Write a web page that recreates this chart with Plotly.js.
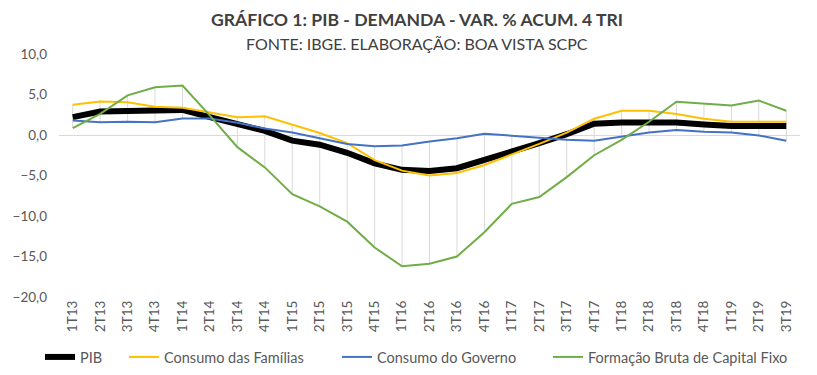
<!DOCTYPE html>
<html>
<head>
<meta charset="utf-8">
<script src="https://cdn.plot.ly/plotly-3.0.1.min.js"></script>
<style>html,body{margin:0;padding:0;background:#fff;}#chart{width:817px;height:375px;}</style>
</head>
<body>
<div id="chart"></div>
<script>
const quarters = ["1T13","2T13","3T13","4T13","1T14","2T14","3T14","4T14","1T15","2T15","3T15","4T15","1T16","2T16","3T16","4T16","1T17","2T17","3T17","4T17","1T18","2T18","3T18","4T18","1T19","2T19","3T19"];
const pib = [2.2,2.9,2.95,3.0,3.1,2.2,1.3,0.5,-0.7,-1.2,-2.2,-3.5,-4.3,-4.45,-4.1,-3.1,-2.0,-1.0,0.1,1.4,1.55,1.55,1.55,1.3,1.1,1.1,1.1];
const familias = [3.74,4.15,4.05,3.5,3.35,2.8,2.2,2.3,1.27,0.25,-1.0,-3.1,-4.4,-5.0,-4.7,-3.7,-2.4,-1.1,0.3,2.0,3.0,3.0,2.6,2.0,1.65,1.65,1.65];
const governo = [1.8,1.56,1.64,1.56,2.05,2.05,1.5,0.8,0.32,-0.37,-1.1,-1.4,-1.3,-0.8,-0.4,0.16,-0.08,-0.4,-0.58,-0.7,-0.2,0.3,0.62,0.4,0.3,-0.05,-0.7];
const fbcf = [0.86,2.6,4.9,5.9,6.1,2.4,-1.5,-4.0,-7.3,-8.8,-10.7,-13.9,-16.2,-15.9,-15.0,-12.0,-8.5,-7.65,-5.2,-2.5,-0.6,1.64,4.1,3.9,3.65,4.25,3.0];
const names = ["PIB","Consumo das Famílias","Consumo do Governo","Formação Bruta de Capital Fixo"];
const yTicks = [-20,-15,-10,-5,0,5,10];
const titleText = "GRÁFICO 1: PIB - DEMANDA - VAR. % ACUM. 4 TRI";
const subtitleText = "FONTE: IBGE. ELABORAÇÃO: BOA VISTA SCPC";

const W = 817, H = 375;
const M = {l: 59, r: 17, t: 54, b: 78};
const series = [pib, familias, governo, fbcf];
const colors = ["#000000", "#FFC000", "#4472C4", "#70AD47"];
const widths = [6, 2, 2, 2];
const legendIds = ["legend", "legend2", "legend3", "legend4"];
const legendX = [45, 129, 342, 553];

// high-low lines (Excel-style) derived from the series
const hlX = [], hlY = [];
quarters.forEach((q, i) => {
  const vals = series.map(s => s[i]);
  hlX.push(q, q, null);
  hlY.push(Math.max(...vals), Math.min(...vals), null);
});

const FONT = "Lato, 'Open Sans', sans-serif";
const traces = [
  {x: hlX, y: hlY, mode: "lines", line: {color: "#d9d9d9", width: 1}, showlegend: false, hoverinfo: "skip"}
];
series.forEach((s, k) => {
  traces.push({x: quarters, y: s, name: names[k], mode: "lines",
    line: {color: colors[k], width: widths[k]}, legend: legendIds[k]});
});

const layout = {
  width: W, height: H,
  margin: M,
  paper_bgcolor: "#ffffff", plot_bgcolor: "#ffffff",
  separators: ",.",
  font: {family: FONT, color: "#595959", size: 13},
  showlegend: true,
  xaxis: {
    type: "category", categoryorder: "array", categoryarray: quarters,
    range: [-0.5, quarters.length - 0.5],
    showgrid: false, zeroline: false, showline: false, ticks: "",
    tickangle: -90, tickfont: {size: 13.5, color: "#595959"}, automargin: false
  },
  yaxis: {
    range: [-20, 10], tickvals: yTicks, tickformat: ".1f",
    showgrid: false, zeroline: true, zerolinecolor: "#d9d9d9", zerolinewidth: 1,
    showline: false, ticks: "", tickfont: {size: 13.5, color: "#595959"}, automargin: false,
    ticklabelstandoff: 11
  }
};
legendIds.forEach((id, k) => {
  layout[id] = {orientation: "h", xref: "container", yref: "container",
    x: (legendX[k] - 5) / W, xanchor: "left", y: (H - 357) / H, yanchor: "middle",
    font: {size: 14.5, color: "#595959", family: FONT}, bgcolor: "rgba(0,0,0,0)", borderwidth: 0};
});
const plotW = W - M.l - M.r, plotH = H - M.t - M.b;
const px2x = p => (p - M.l) / plotW;
const px2y = p => 1 + (M.t - p) / plotH;
layout.annotations = [
  {text: "<b>" + titleText + "</b>", x: px2x(417), y: px2y(20), xref: "paper", yref: "paper", xanchor: "center", yanchor: "middle", showarrow: false, font: {size: 17.6, color: "#404040", family: FONT}},
  {text: subtitleText, x: px2x(417), y: px2y(44), xref: "paper", yref: "paper", xanchor: "center", yanchor: "middle", showarrow: false, font: {size: 16, color: "#404040", family: FONT}}
];
Plotly.newPlot("chart", traces, layout, {displayModeBar: false, staticPlot: true});
</script>
</body>
</html>
